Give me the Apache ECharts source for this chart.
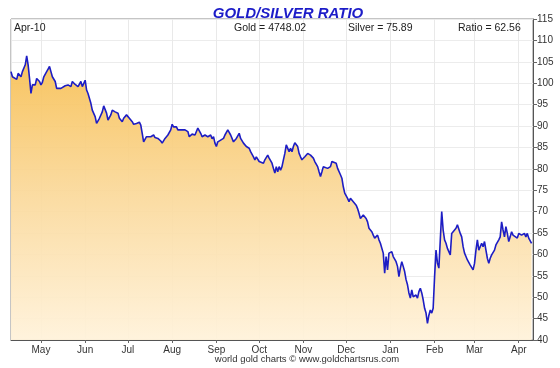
<!DOCTYPE html>
<html>
<head>
<meta charset="utf-8">
<script src="https://cdn.jsdelivr.net/npm/echarts@6/dist/echarts.min.js"></script>
<style>
html,body{margin:0;padding:0;background:#fff;}
#chart{width:560px;height:368px;}
</style>
</head>
<body>
<div id="chart"></div>
<script>
const titleText = 'GOLD/SILVER RATIO';
const headerDate = 'Apr-10';
const headerGold = 'Gold = 4748.02';
const headerSilver = 'Silver = 75.89';
const headerRatio = 'Ratio = 62.56';
const creditText = 'world gold charts \u00a9 www.goldchartsrus.com';
const monthLabels = ['Jan','Feb','Mar','Apr','May','Jun','Jul','Aug','Sep','Oct','Nov','Dec'];
const yTicks = {min: 40, max: 115, step: 5};

const dates = [
'2025-04-10','2025-04-11','2025-04-12','2025-04-14','2025-04-15','2025-04-17','2025-04-18','2025-04-20','2025-04-21','2025-04-22',
'2025-04-23','2025-04-24','2025-04-25','2025-04-26','2025-04-27','2025-04-28','2025-04-30','2025-05-01','2025-05-02','2025-05-03',
'2025-05-05','2025-05-06','2025-05-07','2025-05-08','2025-05-09','2025-05-11','2025-05-12','2025-05-13','2025-05-15','2025-05-16',
'2025-05-18','2025-05-20','2025-05-22','2025-05-23','2025-05-25','2025-05-26','2025-05-27','2025-05-29','2025-05-30','2025-06-01',
'2025-06-02','2025-06-03','2025-06-04','2025-06-05','2025-06-06','2025-06-08','2025-06-09','2025-06-10','2025-06-11','2025-06-13',
'2025-06-14','2025-06-16','2025-06-17','2025-06-19','2025-06-20','2025-06-22','2025-06-24','2025-06-25','2025-06-27','2025-06-28',
'2025-06-30','2025-07-02','2025-07-04','2025-07-05','2025-07-07','2025-07-09','2025-07-10','2025-07-11','2025-07-12','2025-07-14',
'2025-07-15','2025-07-17','2025-07-19','2025-07-20','2025-07-22','2025-07-24','2025-07-25','2025-07-27','2025-07-28','2025-07-29',
'2025-07-31','2025-08-01','2025-08-02','2025-08-04','2025-08-05','2025-08-07','2025-08-08','2025-08-10','2025-08-12','2025-08-13',
'2025-08-15','2025-08-17','2025-08-18','2025-08-19','2025-08-21','2025-08-22','2025-08-23','2025-08-24','2025-08-25','2025-08-26',
'2025-08-28','2025-08-29','2025-08-30','2025-08-31','2025-09-01','2025-09-02','2025-09-04','2025-09-06','2025-09-07','2025-09-09',
'2025-09-10','2025-09-11','2025-09-13','2025-09-14','2025-09-15','2025-09-16','2025-09-17','2025-09-18','2025-09-20','2025-09-21',
'2025-09-22','2025-09-23','2025-09-24','2025-09-25','2025-09-27','2025-09-28','2025-09-29','2025-09-30','2025-10-01','2025-10-02',
'2025-10-04','2025-10-05','2025-10-06','2025-10-07','2025-10-08','2025-10-10','2025-10-11','2025-10-12','2025-10-13','2025-10-14',
'2025-10-15','2025-10-16','2025-10-17','2025-10-18','2025-10-19','2025-10-20','2025-10-22','2025-10-23','2025-10-24','2025-10-25',
'2025-10-26','2025-10-28','2025-10-29','2025-10-30','2025-10-31','2025-11-01','2025-11-02','2025-11-04','2025-11-05','2025-11-06',
'2025-11-07','2025-11-08','2025-11-09','2025-11-11','2025-11-12','2025-11-13','2025-11-14','2025-11-15','2025-11-16','2025-11-18',
'2025-11-19','2025-11-20','2025-11-21','2025-11-22','2025-11-24','2025-11-25','2025-11-26','2025-11-27','2025-11-28','2025-11-29',
'2025-11-30','2025-12-02','2025-12-03','2025-12-04','2025-12-05','2025-12-06','2025-12-08','2025-12-09','2025-12-10','2025-12-11',
'2025-12-12','2025-12-13','2025-12-15','2025-12-16','2025-12-17','2025-12-18','2025-12-19','2025-12-20','2025-12-21','2025-12-23',
'2025-12-24','2025-12-25','2025-12-26','2025-12-27','2025-12-28','2025-12-29','2025-12-30','2025-12-31','2026-01-01','2026-01-02',
'2026-01-03','2026-01-05','2026-01-06','2026-01-07','2026-01-08','2026-01-09','2026-01-10','2026-01-11','2026-01-12','2026-01-13',
'2026-01-14','2026-01-15','2026-01-16','2026-01-17','2026-01-19','2026-01-20','2026-01-21','2026-01-22','2026-01-23','2026-01-24',
'2026-01-25','2026-01-26','2026-01-27','2026-01-28','2026-01-29','2026-01-30','2026-01-31','2026-02-01','2026-02-02','2026-02-03',
'2026-02-04','2026-02-05','2026-02-06','2026-02-07','2026-02-08','2026-02-09','2026-02-10','2026-02-11','2026-02-12','2026-02-13',
'2026-02-14','2026-02-16','2026-02-17','2026-02-18','2026-02-19','2026-02-20','2026-02-21','2026-02-22','2026-02-23','2026-02-24',
'2026-02-25','2026-02-26','2026-02-27','2026-02-28','2026-03-01','2026-03-02','2026-03-03','2026-03-04','2026-03-05','2026-03-06',
'2026-03-07','2026-03-08','2026-03-09','2026-03-10','2026-03-11','2026-03-12','2026-03-13','2026-03-14','2026-03-15','2026-03-16',
'2026-03-17','2026-03-18','2026-03-19','2026-03-20','2026-03-21','2026-03-22','2026-03-23','2026-03-24','2026-03-25','2026-03-26',
'2026-03-27','2026-03-28','2026-03-29','2026-03-31','2026-04-01','2026-04-02','2026-04-03','2026-04-05','2026-04-06','2026-04-07',
'2026-04-08','2026-04-09','2026-04-10'
];

const ratio = [
102.7,101.5,101.2,100.9,102.3,101.5,102.7,104.3,106.4,104.3,
101.1,97.6,99.6,100.0,99.6,101.1,100.4,99.6,100.2,101.5,
102.7,103.3,103.9,102.7,101.5,100.4,98.8,98.4,98.8,99.2,
99.4,99.6,99.2,100.4,99.7,100.0,99.2,100.4,99.2,100.7,
98.4,97.6,97.2,95.3,93.7,92.2,90.6,91.0,91.8,93.3,
94.7,93.0,91.4,92.6,93.7,93.3,93.0,91.8,91.0,91.8,
92.6,91.8,91.0,90.4,90.6,90.9,90.2,88.3,86.3,87.5,
87.9,87.5,87.9,87.3,87.1,86.5,86.0,87.1,87.5,87.9,
89.1,90.4,89.8,89.8,89.1,89.1,88.7,89.1,88.7,87.5,
88.1,87.9,88.7,89.5,88.3,87.5,87.3,87.9,88.3,87.5,
87.9,87.0,87.5,86.0,85.2,86.3,86.7,87.1,87.9,89.1,
88.7,87.9,86.3,86.0,87.1,87.5,88.3,87.1,86.0,86.0,
85.2,85.2,84.8,84.0,82.8,82.1,82.8,82.5,81.7,82.1,
81.3,82.1,82.5,83.2,82.5,81.3,80.1,79.0,80.5,79.3,
80.5,79.7,80.5,82.1,83.6,85.6,84.0,84.8,84.0,85.2,
86.1,85.2,83.6,82.8,82.1,82.5,82.8,83.6,83.2,83.2,
82.8,82.5,81.7,80.5,79.3,78.2,79.3,80.5,80.9,80.1,
79.7,80.5,81.7,82.1,81.3,80.1,79.7,78.6,77.8,75.8,
74.3,73.1,72.3,73.1,73.5,72.3,71.5,70.7,69.6,68.4,
68.0,69.2,68.4,67.6,66.1,65.7,65.3,64.5,63.8,64.5,
63.4,62.6,62.2,60.3,55.6,59.5,56.4,60.3,59.9,60.6,
59.5,58.3,57.2,54.8,56.8,58.3,57.2,56.0,54.1,52.9,
51.0,49.8,51.7,50.1,50.5,49.8,51.3,52.1,51.0,49.4,
47.4,46.3,43.9,45.8,47.0,46.3,47.4,54.8,61.0,58.0,
56.8,63.4,70.0,65.7,63.4,62.6,61.4,61.8,59.9,64.9,
65.3,66.1,66.9,67.3,64.9,64.1,61.8,60.3,59.5,58.7,
58.3,57.5,57.9,56.4,57.9,61.0,63.4,61.0,61.8,62.6,
61.8,63.0,61.0,59.1,57.9,59.1,59.9,60.3,61.0,62.2,
62.6,63.4,64.1,67.6,65.7,64.1,66.5,64.9,63.0,64.1,
65.3,64.5,64.1,63.8,64.9,65.3,64.5,64.9,64.1,64.9,
63.8,63.4,62.56
];

const xRange = {min: '2025-04-10', max: '2026-04-11'};

const FONT = "'Liberation Sans',Arial,sans-serif";
const chart = echarts.init(document.getElementById('chart'), null, {renderer: 'canvas'});
const DAY = 86400000;

const option = {
  animation: false,
  backgroundColor: '#ffffff',
  title: {
    text: titleText,
    left: 283, top: 1, textAlign: 'center',
    textStyle: {color: '#1c1cc8', fontSize: 15, fontWeight: 'bold', fontStyle: 'italic', fontFamily: FONT}
  },
  grid: {left: 11, right: 27, top: 19, bottom: 28, show: true, borderColor: '#8a8a8a', borderWidth: 1, backgroundColor: '#ffffff'},
  xAxis: {
    type: 'time',
    min: xRange.min, max: xRange.max,
    minInterval: 28 * DAY, maxInterval: 31 * DAY,
    splitNumber: 12,
    axisLine: {show: true, lineStyle: {color: '#555', width: 1}},
    axisTick: {show: true, length: 3, lineStyle: {color: '#666'}},
    axisLabel: {
      color: '#333', fontSize: 10, fontFamily: FONT, margin: 5,
      showMinLabel: false, showMaxLabel: false,
      formatter: function (v) { return monthLabels[new Date(v).getMonth()]; }
    },
    splitLine: {show: true, lineStyle: {color: '#e9e9e9', width: 1}}
  },
  yAxis: {
    type: 'value', position: 'right',
    min: yTicks.min, max: yTicks.max, interval: yTicks.step,
    axisLine: {show: true, lineStyle: {color: '#555', width: 1}},
    axisTick: {show: true, length: 4, lineStyle: {color: '#666'}},
    axisLabel: {color: '#333', fontSize: 10, fontFamily: FONT, margin: 4},
    splitLine: {show: true, lineStyle: {color: '#ececec', width: 1}}
  },
  series: [{
    type: 'line',
    data: dates.map((d, i) => [d, ratio[i]]),
    showSymbol: false,
    symbol: 'none',
    lineStyle: {color: '#1d1dc4', width: 1.6},
    areaStyle: {
      origin: 'start',
      opacity: 0.93,
      color: new echarts.graphic.LinearGradient(0, 0, 0, 1, [
        {offset: 0, color: '#f7bf52'},
        {offset: 0.45, color: '#fad796'},
        {offset: 1, color: '#fff2da'}
      ])
    }
  }],
  graphic: [
    {type: 'text', z: 100, left: 14, top: 23, style: {text: headerDate, fill: '#222', font: '10.5px ' + FONT}},
    {type: 'text', z: 100, left: 234, top: 23, style: {text: headerGold, fill: '#222', font: '10.5px ' + FONT}},
    {type: 'text', z: 100, left: 348, top: 23, style: {text: headerSilver, fill: '#222', font: '10.5px ' + FONT}},
    {type: 'text', z: 100, left: 458, top: 23, style: {text: headerRatio, fill: '#222', font: '10.5px ' + FONT}},
    {type: 'text', z: 100, x: 307, y: 354, style: {text: creditText, fill: '#333', font: '9.5px ' + FONT, textAlign: 'center'}}
  ]
};
chart.setOption(option);
</script>
</body>
</html>
